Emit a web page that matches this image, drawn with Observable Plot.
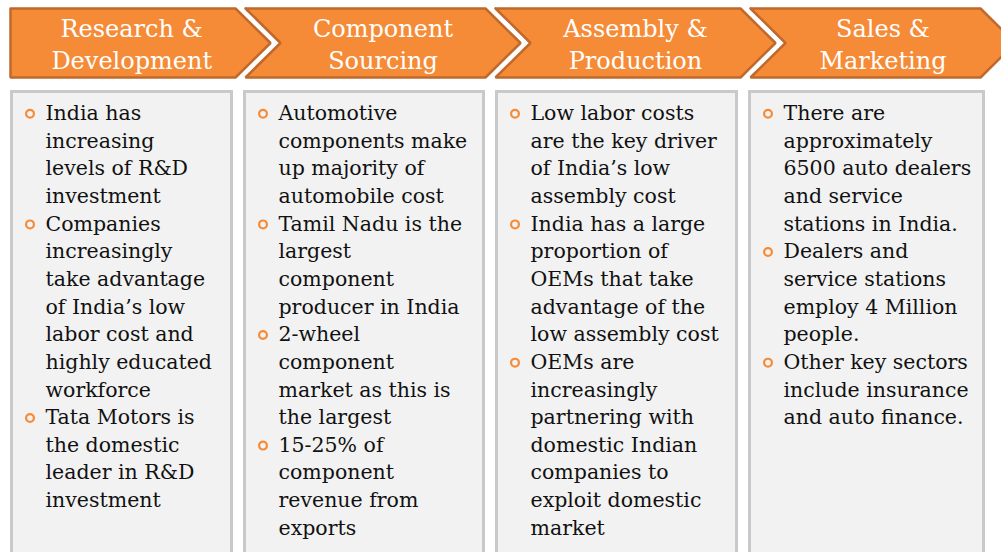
<!DOCTYPE html>
<html><head><meta charset="utf-8">
<script src="https://cdn.jsdelivr.net/npm/d3@7"></script>
<script src="https://cdn.jsdelivr.net/npm/@observablehq/plot@0.6"></script>
<style>body{margin:0;background:#fff;overflow:hidden}</style>
</head><body><div id="chart"></div>
<script>
// ---- data ----
const stages = ["Research &\nDevelopment", "Component\nSourcing", "Assembly &\nProduction", "Sales &\nMarketing"];
const researchBullets = [
  ["India has", "increasing", "levels of R&D", "investment"],
  ["Companies", "increasingly", "take advantage", "of India’s low", "labor cost and", "highly educated", "workforce"],
  ["Tata Motors is", "the domestic", "leader in R&D", "investment"]
];
const sourcingBullets = [
  ["Automotive", "components make", "up majority of", "automobile cost"],
  ["Tamil Nadu is the", "largest", "component", "producer in India"],
  ["2-wheel", "component", "market as this is", "the largest"],
  ["15-25% of", "component", "revenue from", "exports"]
];
const productionBullets = [
  ["Low labor costs", "are the key driver", "of India’s low", "assembly cost"],
  ["India has a large", "proportion of", "OEMs that take", "advantage of the", "low assembly cost"],
  ["OEMs are", "increasingly", "partnering with", "domestic Indian", "companies to", "exploit domestic", "market"]
];
const salesBullets = [
  ["There are", "approximately", "6500 auto dealers", "and service", "stations in India."],
  ["Dealers and", "service stations", "employ 4 Million", "people."],
  ["Other key sectors", "include insurance", "and auto finance."]
];
const stageBullets = [researchBullets, sourcingBullets, productionBullets, salesBullets];

// ---- layout ----
(function () {
const W = 1001, H = 552;
const chevL = [10, 245, 495, 750], chevR = [235, 485, 740, 980];
const boxL = [10, 243, 495, 748], boxR = [233, 485, 738, 985];
const depth = 35, yTop = 8, yBot = 77, yMid = 42.5;
const orange = "#F68B37", orangeDark = "#C0692C";
const serif = "'DejaVu Serif', serif";

const chevPts = [];
stages.forEach((s, i) => {
  const L = chevL[i], R = chevR[i];
  const pts = i === 0
    ? [[L, yTop], [R, yTop], [R + depth, yMid], [R, yBot], [L, yBot], [L, yTop]]
    : [[L, yTop], [R, yTop], [R + depth, yMid], [R, yBot], [L, yBot], [L + depth, yMid], [L, yTop]];
  pts.forEach(([x, y]) => chevPts.push({i, x, y}));
});
const headCx = stages.map((s, i) => i === 0 ? (chevL[i] + chevR[i] + depth / 2) / 2 : (chevL[i] + depth + chevR[i]) / 2);

const lineH = 27.65, base0 = 119.5;
const lines = [], dots = [];
stageBullets.forEach((bl, i) => {
  let k = 0;
  bl.forEach(b => {
    dots.push({x: boxL[i] + 19.5, y: base0 + k * lineH - 6.2});
    b.forEach(t => { lines.push({x: boxL[i] + 35, y: base0 + k * lineH, t}); k++; });
  });
});
const boxes = stages.map((s, i) => ({x1: boxL[i] + 1.5, x2: boxR[i] - 1.5, y1: 91.5, y2: 620}));

const plot = Plot.plot({
  width: W, height: H, margin: 0,
  x: {domain: [0, W], range: [0, W], axis: null},
  y: {domain: [0, H], range: [0, H], axis: null},
  style: {background: "transparent", fontFamily: serif},
  marks: [
    Plot.line(chevPts, {x: "x", y: "y", z: "i", fill: orange, stroke: orangeDark, strokeWidth: 2.5, strokeLinejoin: "miter", curve: "linear"}),
    Plot.text(stages, {x: (d, i) => headCx[i], y: () => yMid, text: d => d, fill: "white", fontSize: 24, lineHeight: 1.317, lineAnchor: "middle", textAnchor: "middle", fontFamily: serif}),
    Plot.rect(boxes, {x1: "x1", x2: "x2", y1: "y1", y2: "y2", fill: "#F2F2F2", stroke: "#C8C9CB", strokeWidth: 3}),
    Plot.dot(dots, {x: "x", y: "y", r: 3.9, stroke: orange, strokeWidth: 2.2, fill: "none"}),
    Plot.text(lines, {x: "x", y: "y", text: "t", textAnchor: "start", lineAnchor: "bottom", fontSize: 20.5, fill: "#111111", fontFamily: serif})
  ]
});
document.getElementById("chart").appendChild(plot);
})();
</script>
</body></html>
